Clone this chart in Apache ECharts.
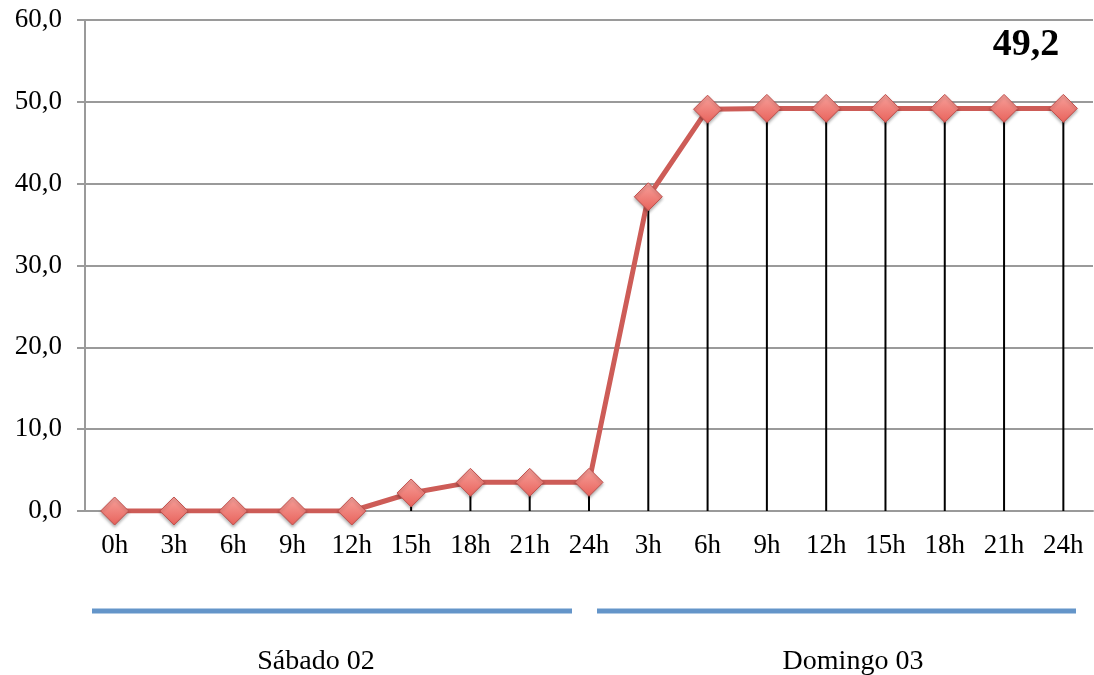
<!DOCTYPE html>
<html><head><meta charset="utf-8">
<script src="https://cdn.jsdelivr.net/npm/echarts@6/dist/echarts.min.js"></script>
<style>html,body{margin:0;padding:0;background:#fff}#c{width:1094px;height:675px}</style>
</head><body><div id="c"></div>
<script>
const categories = ['0h','3h','6h','9h','12h','15h','18h','21h','24h','3h','6h','9h','12h','15h','18h','21h','24h'];
const values = [0,0,0,0,0,2.2,3.5,3.5,3.5,38.4,49.1,49.2,49.2,49.2,49.2,49.2,49.2];
const yTicks = {min:0, max:60, interval:10};
const groupLabels = ['Sábado 02','Domingo 03'];
const annotation = '49,2';

const FONT = '"Liberation Serif", "DejaVu Serif", serif';
const chart = echarts.init(document.getElementById('c'));
chart.setOption({
  animation:false,
  backgroundColor:'#fff',
  grid:{left:85, right:1, top:20, bottom:164},
  xAxis:{type:'category', data:categories, boundaryGap:true,
    axisLine:{show:true, lineStyle:{color:'#9a9a9a', width:2}},
    axisTick:{show:false},
    axisLabel:{color:'#000', fontFamily:FONT, fontSize:27, margin:21, interval:0}},
  yAxis:{type:'value', min:yTicks.min, max:yTicks.max, interval:yTicks.interval,
    axisLine:{show:true, lineStyle:{color:'#9a9a9a', width:2}},
    axisTick:{show:true, length:8, lineStyle:{color:'#9a9a9a', width:2}},
    splitLine:{show:true, lineStyle:{color:'#9a9a9a', width:2}},
    axisLabel:{color:'#000', fontFamily:FONT, fontSize:27, margin:23,
      formatter:v=>v.toFixed(1).replace('.',',')}},
  series:[
    {type:'bar', data:values, barWidth:2, itemStyle:{color:'#000'}, z:1, silent:true},
    {type:'line', data:values, z:3, symbol:'diamond', symbolSize:[28,28],
      lineStyle:{color:'#cd5c57', width:5},
      itemStyle:{color:new echarts.graphic.LinearGradient(0,0,0,1,[{offset:0,color:'#f7a29c'},{offset:1,color:'#e8625b'}]),
        borderColor:'#c0504d', borderWidth:1, shadowColor:'rgba(0,0,0,0.3)', shadowBlur:3, shadowOffsetY:2}}
  ],
  graphic:[
    {type:'text', x:1026, y:45, style:{text:annotation, font:'bold 38px '+FONT, fill:'#000', textAlign:'center', textVerticalAlign:'middle'}},
    {type:'line', shape:{x1:92,y1:611,x2:572,y2:611}, style:{stroke:'#6495c9', lineWidth:5}},
    {type:'line', shape:{x1:597,y1:611,x2:1076,y2:611}, style:{stroke:'#6495c9', lineWidth:5}},
    {type:'text', x:316, y:662, style:{text:groupLabels[0], font:'28px '+FONT, fill:'#000', textAlign:'center', textVerticalAlign:'middle'}},
    {type:'text', x:853, y:662, style:{text:groupLabels[1], font:'28px '+FONT, fill:'#000', textAlign:'center', textVerticalAlign:'middle'}}
  ]
});
</script></body></html>
